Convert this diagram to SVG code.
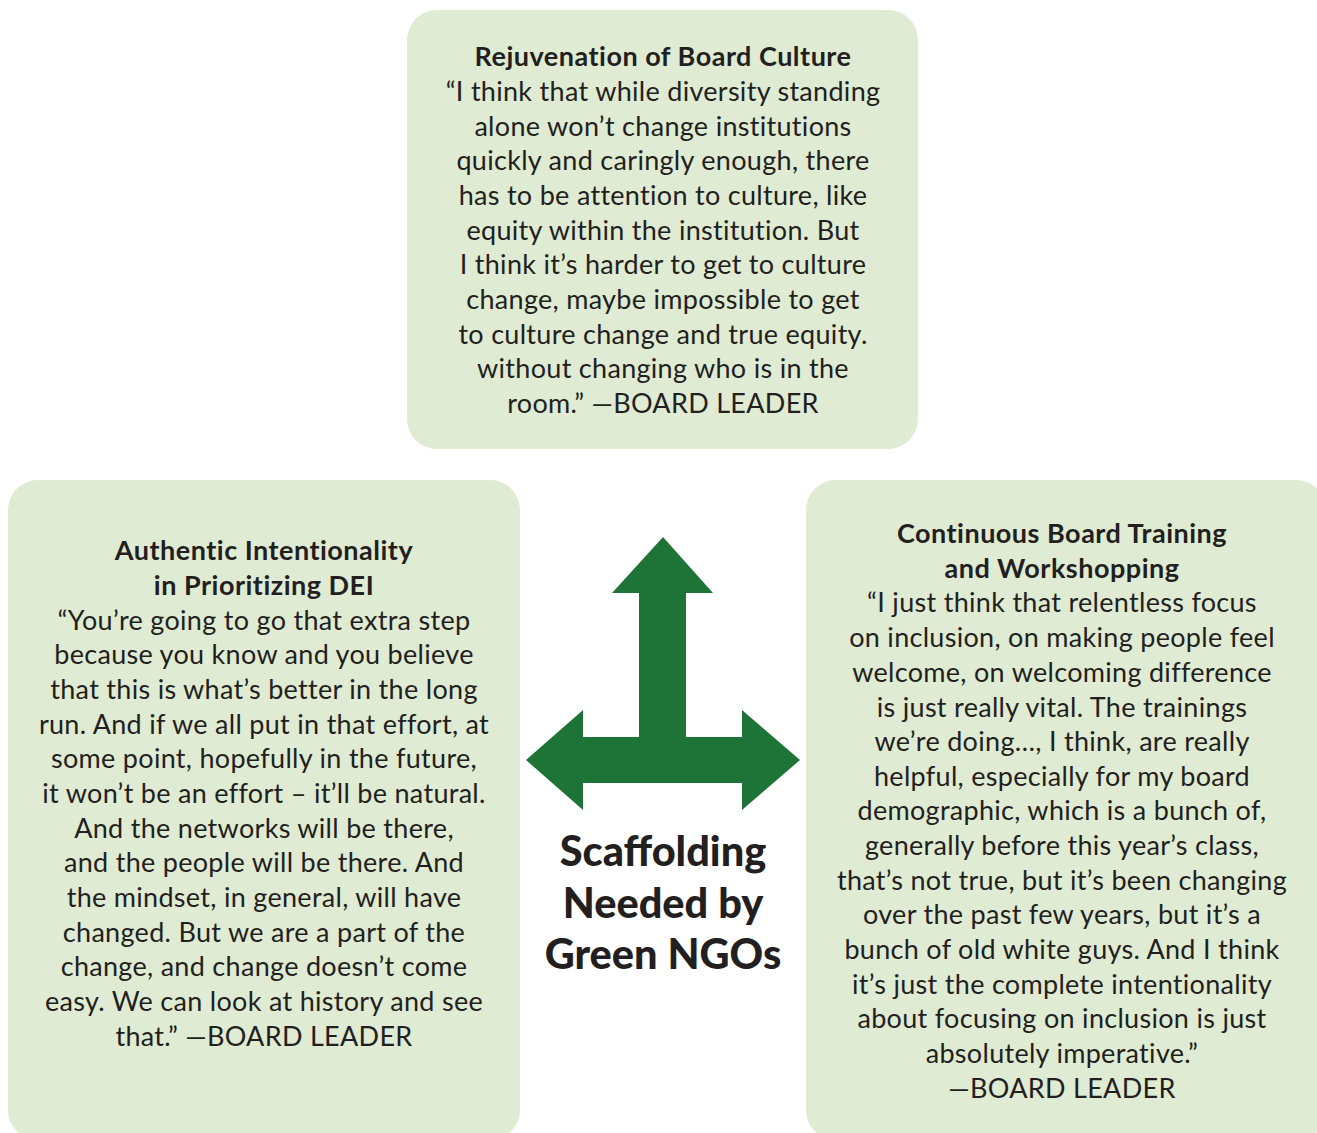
<svg xmlns="http://www.w3.org/2000/svg" width="1317" height="1133" viewBox="0 0 1317 1133">
<style>
.box{fill:#dfebd2}
.t{font-family:Lato,"Liberation Sans",sans-serif;font-size:27px;letter-spacing:0.3px;fill:#231f20;text-anchor:middle}
.b{font-weight:bold;letter-spacing:0.5px}
.c{font-family:Lato,"Liberation Sans",sans-serif;font-size:41.5px;font-weight:900;fill:#231f20;text-anchor:middle}
</style>
<rect width="1317" height="1133" fill="#ffffff"/>
<g id="node-culture">
<rect class="box" x="407" y="10" width="511" height="439" rx="30"/>
<text class="t b" x="663" y="66">Rejuvenation of Board Culture</text>
<text class="t" x="663" y="101">“I think that while diversity standing</text>
<text class="t" x="663" y="136">alone won’t change institutions</text>
<text class="t" x="663" y="170">quickly and caringly enough, there</text>
<text class="t" x="663" y="205">has to be attention to culture, like</text>
<text class="t" x="663" y="240">equity within the institution. But</text>
<text class="t" x="663" y="274">I think it’s harder to get to culture</text>
<text class="t" x="663" y="309">change, maybe impossible to get</text>
<text class="t" x="663" y="344">to culture change and true equity.</text>
<text class="t" x="663" y="378">without changing who is in the</text>
<text class="t" x="663" y="413">room.” —BOARD LEADER</text>
</g>
<g id="node-intentionality">
<rect class="box" x="8" y="480" width="512" height="660" rx="30"/>
<text class="t b" x="264" y="560">Authentic Intentionality</text>
<text class="t b" x="264" y="595">in Prioritizing DEI</text>
<text class="t" x="264" y="630">“You’re going to go that extra step</text>
<text class="t" x="264" y="664">because you know and you believe</text>
<text class="t" x="264" y="699">that this is what’s better in the long</text>
<text class="t" x="264" y="734">run. And if we all put in that effort, at</text>
<text class="t" x="264" y="768">some point, hopefully in the future,</text>
<text class="t" x="264" y="803">it won’t be an effort – it’ll be natural.</text>
<text class="t" x="264" y="838">And the networks will be there,</text>
<text class="t" x="264" y="872">and the people will be there. And</text>
<text class="t" x="264" y="907">the mindset, in general, will have</text>
<text class="t" x="264" y="942">changed. But we are a part of the</text>
<text class="t" x="264" y="976">change, and change doesn’t come</text>
<text class="t" x="264" y="1011">easy. We can look at history and see</text>
<text class="t" x="264" y="1046">that.” —BOARD LEADER</text>
</g>
<g id="node-training">
<rect class="box" x="806" y="480" width="520" height="660" rx="30"/>
<text class="t b" x="1062" y="543">Continuous Board Training</text>
<text class="t b" x="1062" y="578">and Workshopping</text>
<text class="t" x="1062" y="612">“I just think that relentless focus</text>
<text class="t" x="1062" y="647">on inclusion, on making people feel</text>
<text class="t" x="1062" y="682">welcome, on welcoming difference</text>
<text class="t" x="1062" y="717">is just really vital. The trainings</text>
<text class="t" x="1062" y="751">we’re doing…, I think, are really</text>
<text class="t" x="1062" y="786">helpful, especially for my board</text>
<text class="t" x="1062" y="820">demographic, which is a bunch of,</text>
<text class="t" x="1062" y="855">generally before this year’s class,</text>
<text class="t" x="1062" y="890">that’s not true, but it’s been changing</text>
<text class="t" x="1062" y="924">over the past few years, but it’s a</text>
<text class="t" x="1062" y="959">bunch of old white guys. And I think</text>
<text class="t" x="1062" y="994">it’s just the complete intentionality</text>
<text class="t" x="1062" y="1028">about focusing on inclusion is just</text>
<text class="t" x="1062" y="1063">absolutely imperative.”</text>
<text class="t" x="1062" y="1098">—BOARD LEADER</text>
</g>
<g id="connectors">
<path d="M663,537 L713,593 L686,593 L686,737 L742,737 L742,710 L800,760 L742,810 L742,783 L583,783 L583,810 L526,760 L583,710 L583,737 L639,737 L639,593 L612,593 Z" fill="#1e7436"/>
</g>
<g id="node-center">
<text class="c" x="663" y="866">Scaffolding</text>
<text class="c" x="663" y="918">Needed by</text>
<text class="c" x="663" y="969">Green NGOs</text>
</g>
</svg>
